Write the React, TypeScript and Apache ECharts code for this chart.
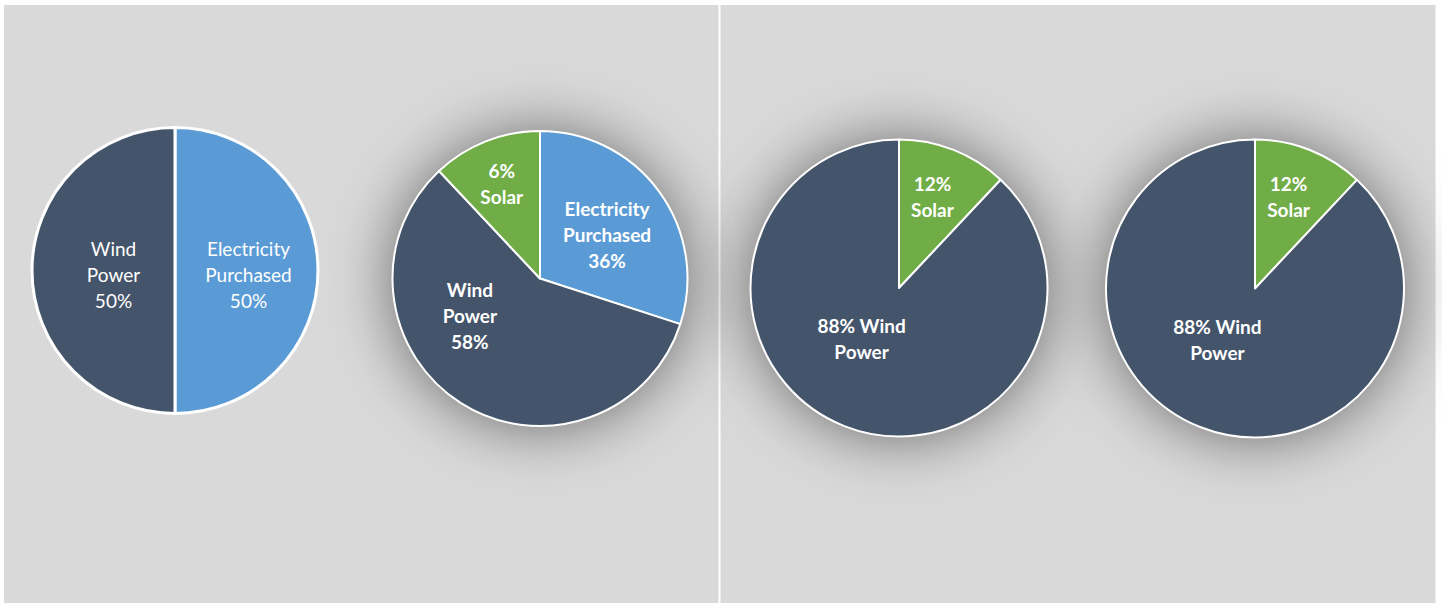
import React, { useEffect, useRef } from "react";
import * as echarts from "echarts";

// ---- data ----
const pie1Names = ["Electricity Purchased", "Wind Power"];
const pie1Values = [50, 50];
const pie1Labels = ["Electricity\nPurchased\n50%", "Wind\nPower\n50%"];

const pie2Names = ["Electricity Purchased", "Wind Power", "Solar"];
const pie2Values = [30, 58, 12];
const pie2Labels = ["Electricity\nPurchased\n36%", "Wind\nPower\n58%", "6%\nSolar"];

const pie3Names = ["Solar", "Wind Power"];
const pie3Values = [12, 88];
const pie3Labels = ["12%\nSolar", "88% Wind\nPower"];

const pie4Names = ["Solar", "Wind Power"];
const pie4Values = [12, 88];
const pie4Labels = ["12%\nSolar", "88% Wind\nPower"];

// ---- styles ----
const COLORS: Record<string, string> = {
  "Electricity Purchased": "#5b9bd5",
  "Wind Power": "#44546a",
  Solar: "#70ad47",
};
const FONT = "Lato, 'Open Sans', sans-serif";

// label nudges (px) per slice, to follow the reference's placement
const nudges1 = [[-1, 4], [13, 4]];
const nudges2 = [[5, 1], [-29, -28], [-10, -24]];
const nudges3 = [[5, -20], [-9, -21]];
const nudges4 = [[5, -20], [-9, -21]];

function makeData(names: string[], values: number[], labels: string[]) {
  return names.map((n, i) => ({
    name: n,
    value: values[i],
    label: { formatter: labels[i] },
    itemStyle: { color: COLORS[n] },
  }));
}

export default function App() {
  const ref = useRef<HTMLDivElement>(null);
  useEffect(() => {
    document.body.style.margin = "0";
    const chart = echarts.init(ref.current!, undefined, { renderer: "svg" });

    const pie = (center: number[], radius: number, data: any[], bold: boolean, border: number, nudges: number[][]) => ({
      type: "pie",
      center,
      radius,
      startAngle: 90,
      clockwise: true,
      silent: true,
      z: 3,
      data,
      itemStyle: { borderColor: "#ffffff", borderWidth: border },
      label: {
        show: true,
        position: "inside",
        color: "#ffffff",
        fontFamily: FONT,
        fontSize: 19,
        fontWeight: bold ? "bold" : "normal",
        lineHeight: 26,
        align: "center",
      },
      labelLine: { show: false },
      labelLayout: (p: any) => {
        const n = nudges[p.dataIndex] || [0, 0];
        return { dx: n[0], dy: n[1] };
      },
      emphasis: { disabled: true },
    });

    // soft drop shadow disc drawn beneath a pie
    const shadowDisc = (center: number[], radius: number) => ({
      type: "pie",
      center,
      radius,
      silent: true,
      z: 1,
      data: [{ value: 1, name: "" }],
      label: { show: false },
      labelLine: { show: false },
      itemStyle: {
        color: "#9a9a9a",
        shadowBlur: 65,
        shadowColor: "rgba(0,0,0,0.55)",
        shadowOffsetX: 0,
        shadowOffsetY: 0,
      },
      emphasis: { disabled: true },
      tooltip: { show: false },
    });

    chart.setOption({
      animation: false,
      backgroundColor: "#ffffff",
      graphic: [
        { type: "rect", z: -10, shape: { x: 4, y: 5, width: 714.5, height: 600 }, style: { fill: "#d9d9d9" } },
        { type: "rect", z: -10, shape: { x: 720.5, y: 5, width: 715, height: 600 }, style: { fill: "#d9d9d9" } },
      ],
      series: [
        shadowDisc([540, 280], 146),
        shadowDisc([899, 289], 147),
        shadowDisc([1255, 289.5], 147.5),
        pie([175, 270.5], 143, makeData(pie1Names, pie1Values, pie1Labels), false, 3, nudges1),
        pie([540, 278.5], 147.5, makeData(pie2Names, pie2Values, pie2Labels), true, 2, nudges2),
        pie([899, 288], 148.5, makeData(pie3Names, pie3Values, pie3Labels), true, 2, nudges3),
        pie([1255, 288.5], 149, makeData(pie4Names, pie4Values, pie4Labels), true, 2, nudges4),
      ],
    });
    return () => chart.dispose();
  }, []);
  return <div ref={ref} style={{ width: 1442, height: 603 }} />;
}
